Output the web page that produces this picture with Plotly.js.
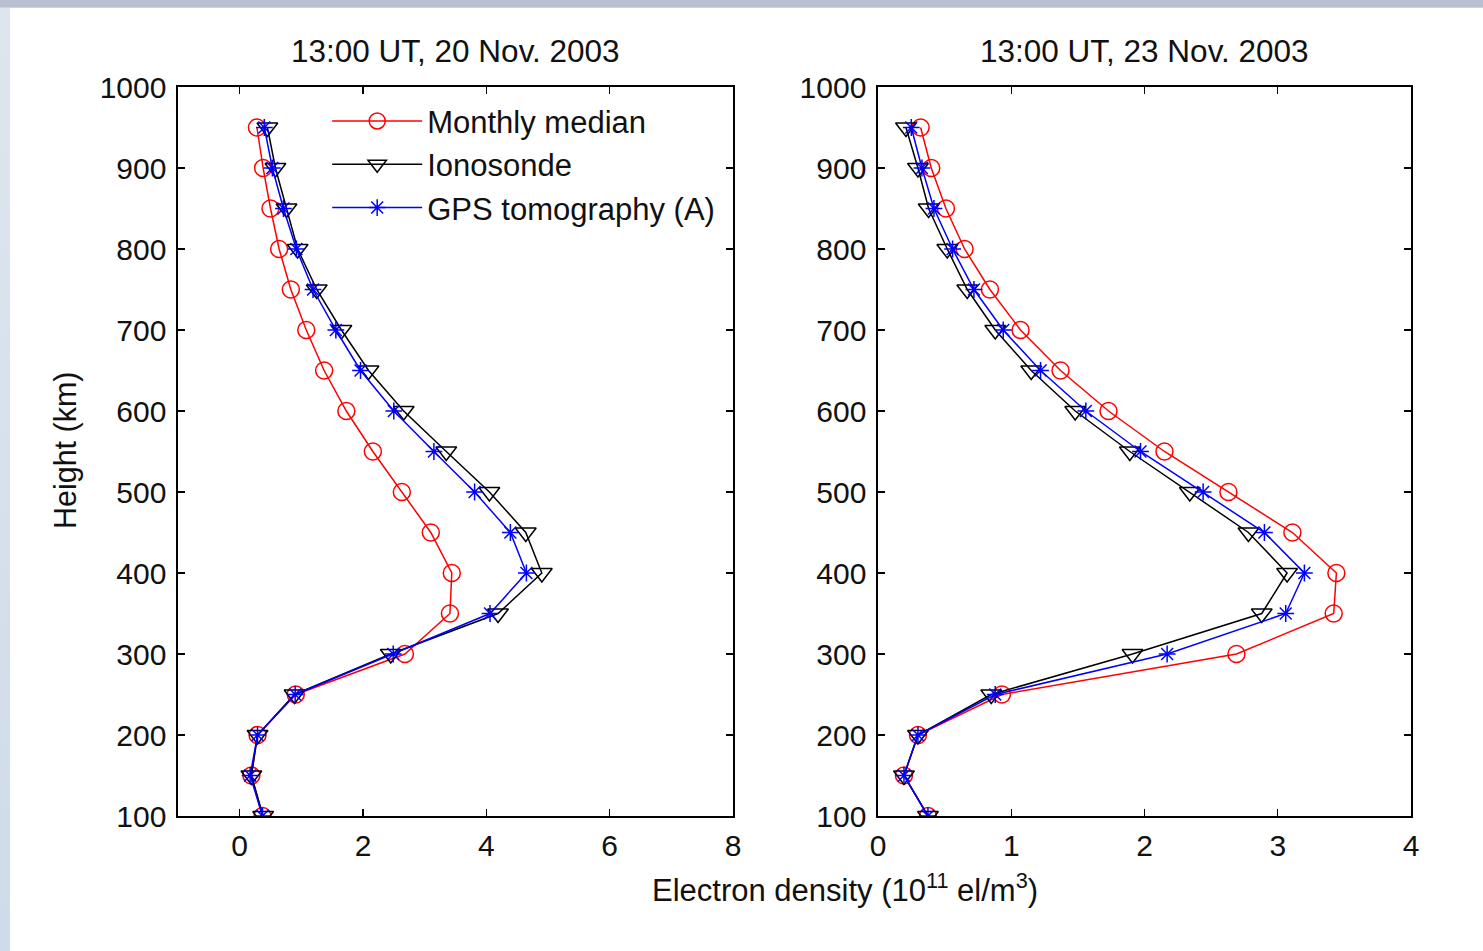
<!DOCTYPE html>
<html>
<head>
<meta charset="utf-8">
<script src="https://cdn.plot.ly/plotly-3.0.1.min.js"></script>
<style>
  html, body { margin: 0; padding: 0; width: 1483px; height: 951px; overflow: hidden; }
  body { background: linear-gradient(to bottom, #b9c1d0 0px, #b9c1d0 7px, #dfe5ee 8px, #cfdbea 100%); position: relative; }
  #plot { position: absolute; left: 10px; top: 8px; width: 1473px; height: 943px; background: #ffffff; }
</style>
</head>
<body>
<div id="plot"></div>
<script>
// Heights (km) of each profile point
const heights = [950, 900, 850, 800, 750, 700, 650, 600, 550, 500, 450, 400, 350, 300, 250, 200, 150, 100];

// 13:00 UT, 20 Nov. 2003 (electron density, 10^11 el/m^3)
const median20 = [0.28, 0.38, 0.50, 0.64, 0.83, 1.08, 1.37, 1.73, 2.16, 2.63, 3.10, 3.44, 3.41, 2.68, 0.91, 0.29, 0.19, 0.37];
const iono20   = [0.45, 0.58, 0.76, 0.94, 1.25, 1.65, 2.09, 2.66, 3.35, 4.05, 4.64, 4.90, 4.19, 2.45, 0.89, 0.29, 0.19, 0.38];
const gps20    = [0.40, 0.53, 0.71, 0.92, 1.19, 1.56, 1.96, 2.50, 3.15, 3.81, 4.39, 4.65, 4.06, 2.49, 0.90, 0.29, 0.17, 0.37];

// 13:00 UT, 23 Nov. 2003
const median23 = [0.32, 0.40, 0.51, 0.65, 0.84, 1.07, 1.37, 1.73, 2.15, 2.63, 3.11, 3.44, 3.42, 2.69, 0.93, 0.30, 0.195, 0.375];
const iono23   = [0.21, 0.30, 0.38, 0.52, 0.67, 0.88, 1.15, 1.48, 1.89, 2.34, 2.78, 3.07, 2.88, 1.91, 0.85, 0.30, 0.195, 0.375];
const gps23    = [0.25, 0.33, 0.42, 0.56, 0.72, 0.94, 1.22, 1.56, 1.97, 2.44, 2.90, 3.20, 3.06, 2.17, 0.88, 0.30, 0.195, 0.375];

const seriesNames = ["Monthly median", "Ionosonde", "GPS tomography (A)"];
const panelTitles = ["13:00 UT, 20 Nov. 2003", "13:00 UT, 23 Nov. 2003"];
const xTicksLeft = [0, 2, 4, 6, 8];
const xTicksRight = [0, 1, 2, 3, 4];
const yTicks = [100, 200, 300, 400, 500, 600, 700, 800, 900, 1000];

const FONT = '"Liberation Sans", Arial, Helvetica, sans-serif';

const styles = [
  { color: '#ff0000', symbol: 'circle-open', size: 17 },
  { color: '#000000', symbol: 'triangle-down-open', size: 18 },
  { color: '#0000ff', symbol: 'asterisk-open', size: 14 }
];

function mk(x, i, xa, ya, show) {
  return {
    x: x, y: heights, type: 'scatter', mode: 'lines+markers',
    name: seriesNames[i], legendgroup: 'g' + i, showlegend: show,
    xaxis: xa, yaxis: ya,
    line: { color: styles[i].color, width: 1.5 },
    marker: { symbol: styles[i].symbol, size: styles[i].size, color: styles[i].color,
              line: { color: styles[i].color, width: 1.5 } }
  };
}

const data = [
  mk(median20, 0, 'x', 'y', true),
  mk(iono20, 1, 'x', 'y', true),
  mk(gps20, 2, 'x', 'y', true),
  mk(median23, 0, 'x2', 'y2', false),
  mk(iono23, 1, 'x2', 'y2', false),
  mk(gps23, 2, 'x2', 'y2', false)
];

const axCommon = {
  showline: true, linecolor: '#000', linewidth: 1.6, mirror: 'ticks',
  ticks: 'inside', ticklen: 7, tickwidth: 1.2, tickcolor: '#000',
  showgrid: false, zeroline: false,
  tickfont: { family: FONT, size: 30, color: '#111' }
};

const layout = {
  width: 1473, height: 943,
  margin: { l: 168, r: 72, t: 79, b: 135 },
  paper_bgcolor: '#ffffff', plot_bgcolor: '#ffffff',
  font: { family: FONT, color: '#111' },
  showlegend: true,
  legend: {
    x: 0.121, xanchor: 'left', y: 0.99, yanchor: 'top',
    bgcolor: 'rgba(0,0,0,0)', borderwidth: 0,
    font: { family: FONT, size: 31, color: '#111' },
    itemwidth: 90,
    tracegroupgap: 0
  },
  xaxis: Object.assign({}, axCommon, { domain: [0, 0.4501], range: [-1, 8], tickvals: xTicksLeft, anchor: 'y', ticklabelstandoff: 2 }),
  yaxis: Object.assign({}, axCommon, { domain: [0, 1], range: [100, 1000], tickvals: yTicks, anchor: 'x', ticklabelstandoff: 4 }),
  xaxis2: Object.assign({}, axCommon, { domain: [0.5677, 1], range: [0, 4], tickvals: xTicksRight, anchor: 'y2', ticklabelstandoff: 2 }),
  yaxis2: Object.assign({}, axCommon, { domain: [0, 1], range: [100, 1000], tickvals: yTicks, anchor: 'x2', ticklabelstandoff: 4 }),
  annotations: [
    { text: panelTitles[0], xref: 'paper', yref: 'paper', x: 0.2251, y: 1, xanchor: 'center', yanchor: 'bottom', yshift: 16,
      showarrow: false, font: { family: FONT, size: 31.5, color: '#111' } },
    { text: panelTitles[1], xref: 'paper', yref: 'paper', x: 0.7838, y: 1, xanchor: 'center', yanchor: 'bottom', yshift: 16,
      showarrow: false, font: { family: FONT, size: 31.5, color: '#111' } },
    { text: 'Height (km)', xref: 'paper', yref: 'paper', x: -0.0916, y: 0.502, xanchor: 'center', yanchor: 'middle', textangle: -90,
      showarrow: false, font: { family: FONT, size: 30.5, color: '#111' } },
    { text: 'Electron density (10<sup>11</sup> el/m<sup>3</sup>)', xref: 'paper', yref: 'paper', x: 0.541, y: 0, xanchor: 'center', yanchor: 'middle', yshift: -72,
      showarrow: false, font: { family: FONT, size: 31, color: '#111' } }
  ]
};

Plotly.newPlot('plot', data, layout, { displayModeBar: false, staticPlot: true });
</script>
</body>
</html>
